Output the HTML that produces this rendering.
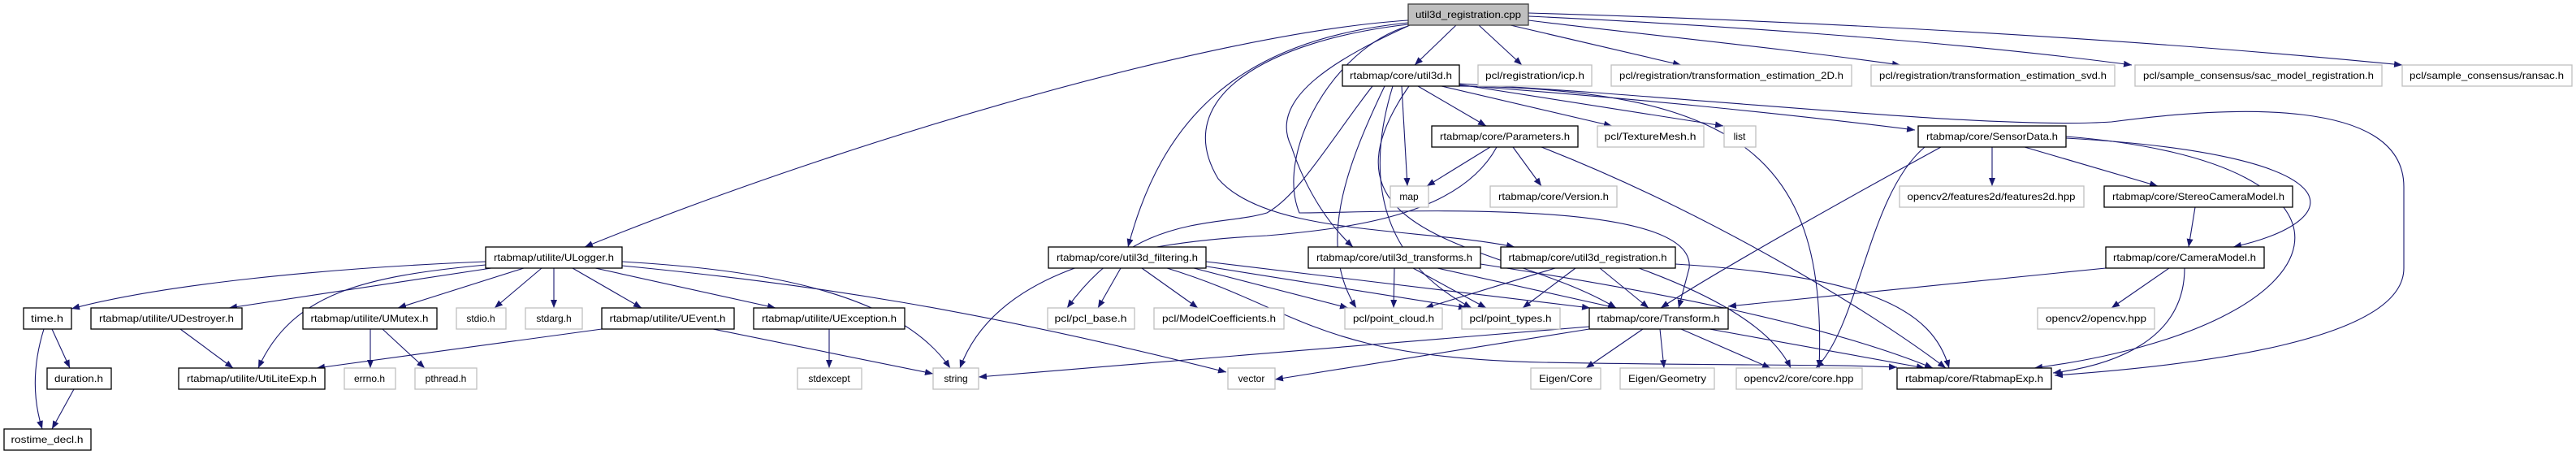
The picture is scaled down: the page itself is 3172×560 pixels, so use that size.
<!DOCTYPE html>
<html><head><meta charset="utf-8"><style>
html,body{margin:0;padding:0;background:#fff;}
svg{display:block}
text{font-family:"Liberation Sans",sans-serif;font-size:12px;fill:#000;}
.b{fill:#fff;stroke:#000;stroke-width:1.3}
.g{fill:#fff;stroke:#bfbfbf;stroke-width:1.3}
.e{fill:none;stroke:#191970;stroke-width:1.1}
</style></head><body>
<svg width="3172" height="560" viewBox="0 0 3172 560" xmlns="http://www.w3.org/2000/svg">
<defs><marker id="a" viewBox="0 0 10 8" refX="10" refY="4" markerWidth="10" markerHeight="8" markerUnits="userSpaceOnUse" orient="auto"><path d="M0,0 L10,4 L0,8 z" fill="#191970"/></marker></defs>
<g class="e" marker-end="url(#a)">
<!-- cpp -->
<path d="M1793,31 L1742,80"/>
<path d="M1821,31 L1874,80"/>
<path d="M1860,31 L2070,80"/>
<path d="M1882,25 C2000,40 2200,60 2340,80"/>
<path d="M1882,20 C2100,30 2400,50 2625,80"/>
<path d="M1882,16 C2200,25 2600,45 2958,80"/>
<path d="M1734,25 C1500,40 1050,170 720,304"/>
<path d="M1734,28 C1520,50 1430,150 1389,304"/>
<path d="M1736,31 C1650,70 1560,120 1590,180 C1610,240 1640,280 1666,304"/>
<path d="M1734,30 C1560,50 1440,120 1500,220 C1560,290 1750,280 1865,304"/>
<path d="M1734,32 C1640,60 1570,190 1600,262 C1700,262 2090,240 2080,330 L2067,379"/>
<!-- util3d.h -->
<path d="M1726,106 L1733,229"/>
<path d="M1746,106 L1830,155"/>
<path d="M1775,106 L1985,155"/>
<path d="M1797,104 L2122,155"/>
<path d="M1797,105 C2000,120 2200,140 2358,160"/>
<path d="M1797,106 C2150,110 2250,200 2240,453"/>
<path d="M1797,103 C2100,120 2450,160 2600,150 C2750,130 2960,120 2960,230 L2960,330 C2960,420 2700,450 2530,462"/>
<path d="M1690,106 C1640,170 1600,240 1560,262 C1500,280 1400,260 1314,379"/>
<path d="M1705,106 C1660,200 1620,300 1670,379"/>
<path d="M1715,106 C1680,220 1700,320 1812,379"/>
<path d="M1735,106 C1600,300 1860,300 1990,379"/>
<!-- Parameters -->
<path d="M1835,181 L1757,229"/>
<path d="M1863,181 L1898,229"/>
<path d="M1898,181 C2100,260 2300,380 2396,453"/>
<path d="M1843,181 C1800,260 1680,280 1560,290 C1350,300 1220,350 1182,453"/>
<!-- SensorData -->
<path d="M2453,181 L2453,229"/>
<path d="M2493,181 L2657,229"/>
<path d="M2544,170 C2900,190 2900,270 2750,304"/>
<path d="M2544,168 C2950,200 2900,400 2505,453"/>
<path d="M2390,181 C2300,230 2120,330 2045,379"/>
<path d="M2370,181 C2300,240 2290,400 2236,453"/>
<!-- Stereo/Camera -->
<path d="M2703,255 L2695,304"/>
<path d="M2671,330 L2600,379"/>
<path d="M2690,330 C2690,420 2600,450 2528,459"/>
<path d="M2593,330 L2128,377"/>
<!-- Transform -->
<path d="M2023,405 L1953,453"/>
<path d="M2044,405 L2049,453"/>
<path d="M2070,405 L2180,453"/>
<path d="M2105,405 L2370,453"/>
<path d="M1957,402 L1205,464"/>
<path d="M1957,405 L1570,467"/>
<!-- util3d_filtering -->
<path d="M1380,330 L1352,379"/>
<path d="M1406,330 L1475,379"/>
<path d="M1470,330 L1660,379"/>
<path d="M1480,327 L1806,379"/>
<path d="M1485,322 L1958,379"/>
<path d="M1437,330 C1600,380 1620,440 1900,446 C2100,450 2250,448 2336,452"/>
<!-- util3d_transforms -->
<path d="M1717,330 L1716,379"/>
<path d="M1740,330 L1830,379"/>
<path d="M1770,330 L1990,379"/>
<path d="M1823,325 C2050,360 2250,400 2380,453"/>
<!-- util3d_registration.h -->
<path d="M1915,330 L1755,379"/>
<path d="M1940,330 L1875,379"/>
<path d="M1970,330 L2030,379"/>
<path d="M2018,330 C2100,360 2180,400 2205,453"/>
<path d="M2063,325 C2300,340 2380,380 2400,453"/>
<!-- ULogger -->
<path d="M598,322 C400,330 200,350 88,380"/>
<path d="M605,330 L282,379"/>
<path d="M598,326 C450,340 360,360 318,453"/>
<path d="M645,330 L490,379"/>
<path d="M667,330 L609,379"/>
<path d="M682,330 L682,379"/>
<path d="M705,330 L790,379"/>
<path d="M733,330 L955,379"/>
<path d="M766,322 C900,330 1100,350 1170,453"/>
<path d="M766,327 C1000,350 1200,380 1510,458"/>
<!-- leaves -->
<path d="M64,405 L86,453"/>
<path d="M54,405 C40,450 40,490 52,528"/>
<path d="M91,479 L64,528"/>
<path d="M222,405 L287,453"/>
<path d="M456,405 L456,453"/>
<path d="M471,405 L523,453"/>
<path d="M741,405 L390,453"/>
<path d="M878,405 L1149,460"/>
<path d="M1021,405 L1021,453"/>
</g>
<g>
<rect x="1734" y="5" width="148" height="26" fill="#bfbfbf" stroke="#404040" stroke-width="1.3"/><text x="1808" y="22" text-anchor="middle" textLength="130" lengthAdjust="spacingAndGlyphs">util3d_registration.cpp</text>
<rect class="b" x="1653" y="80" width="144" height="26"/><text x="1725" y="97" text-anchor="middle" textLength="126" lengthAdjust="spacingAndGlyphs">rtabmap/core/util3d.h</text>
<rect class="g" x="1820" y="80" width="140" height="26"/><text x="1890" y="97" text-anchor="middle" textLength="122" lengthAdjust="spacingAndGlyphs">pcl/registration/icp.h</text>
<rect class="g" x="1984" y="80" width="296" height="26"/><text x="2132" y="97" text-anchor="middle" textLength="276" lengthAdjust="spacingAndGlyphs">pcl/registration/transformation_estimation_2D.h</text>
<rect class="g" x="2304" y="80" width="300" height="26"/><text x="2454" y="97" text-anchor="middle" textLength="280" lengthAdjust="spacingAndGlyphs">pcl/registration/transformation_estimation_svd.h</text>
<rect class="g" x="2629" y="80" width="304" height="26"/><text x="2781" y="97" text-anchor="middle" textLength="284" lengthAdjust="spacingAndGlyphs">pcl/sample_consensus/sac_model_registration.h</text>
<rect class="g" x="2958" y="80" width="209" height="26"/><text x="3062" y="97" text-anchor="middle" textLength="190" lengthAdjust="spacingAndGlyphs">pcl/sample_consensus/ransac.h</text>

<rect class="b" x="1763" y="155" width="180" height="26"/><text x="1853" y="172" text-anchor="middle" textLength="160" lengthAdjust="spacingAndGlyphs">rtabmap/core/Parameters.h</text>
<rect class="g" x="1967" y="155" width="131" height="26"/><text x="2032" y="172" text-anchor="middle" textLength="113" lengthAdjust="spacingAndGlyphs">pcl/TextureMesh.h</text>
<rect class="g" x="2123" y="155" width="39" height="26"/><text x="2142" y="172" text-anchor="middle">list</text>
<rect class="b" x="2362" y="155" width="182" height="26"/><text x="2453" y="172" text-anchor="middle" textLength="162" lengthAdjust="spacingAndGlyphs">rtabmap/core/SensorData.h</text>

<rect class="g" x="1712" y="229" width="47" height="26"/><text x="1735" y="246" text-anchor="middle">map</text>
<rect class="g" x="1835" y="229" width="156" height="26"/><text x="1913" y="246" text-anchor="middle" textLength="136" lengthAdjust="spacingAndGlyphs">rtabmap/core/Version.h</text>
<rect class="g" x="2339" y="229" width="227" height="26"/><text x="2452" y="246" text-anchor="middle" textLength="207" lengthAdjust="spacingAndGlyphs">opencv2/features2d/features2d.hpp</text>
<rect class="b" x="2591" y="229" width="232" height="26"/><text x="2707" y="246" text-anchor="middle" textLength="212" lengthAdjust="spacingAndGlyphs">rtabmap/core/StereoCameraModel.h</text>

<rect class="b" x="598" y="304" width="168" height="26"/><text x="682" y="321" text-anchor="middle" textLength="148" lengthAdjust="spacingAndGlyphs">rtabmap/utilite/ULogger.h</text>
<rect class="b" x="1291" y="304" width="194" height="26"/><text x="1388" y="321" text-anchor="middle" textLength="174" lengthAdjust="spacingAndGlyphs">rtabmap/core/util3d_filtering.h</text>
<rect class="b" x="1611" y="304" width="212" height="26"/><text x="1717" y="321" text-anchor="middle" textLength="192" lengthAdjust="spacingAndGlyphs">rtabmap/core/util3d_transforms.h</text>
<rect class="b" x="1848" y="304" width="215" height="26"/><text x="1955" y="321" text-anchor="middle" textLength="195" lengthAdjust="spacingAndGlyphs">rtabmap/core/util3d_registration.h</text>
<rect class="b" x="2593" y="304" width="195" height="26"/><text x="2690" y="321" text-anchor="middle" textLength="176" lengthAdjust="spacingAndGlyphs">rtabmap/core/CameraModel.h</text>

<rect class="b" x="29" y="379" width="59" height="26"/><text x="58" y="396" text-anchor="middle" textLength="40" lengthAdjust="spacingAndGlyphs">time.h</text>
<rect class="b" x="112" y="379" width="186" height="26"/><text x="205" y="396" text-anchor="middle" textLength="166" lengthAdjust="spacingAndGlyphs">rtabmap/utilite/UDestroyer.h</text>
<rect class="b" x="373" y="379" width="165" height="26"/><text x="455" y="396" text-anchor="middle" textLength="145" lengthAdjust="spacingAndGlyphs">rtabmap/utilite/UMutex.h</text>
<rect class="g" x="562" y="379" width="61" height="26"/><text x="592" y="396" text-anchor="middle">stdio.h</text>
<rect class="g" x="647" y="379" width="70" height="26"/><text x="682" y="396" text-anchor="middle">stdarg.h</text>
<rect class="b" x="741" y="379" width="163" height="26"/><text x="822" y="396" text-anchor="middle" textLength="143" lengthAdjust="spacingAndGlyphs">rtabmap/utilite/UEvent.h</text>
<rect class="b" x="928" y="379" width="186" height="26"/><text x="1021" y="396" text-anchor="middle" textLength="166" lengthAdjust="spacingAndGlyphs">rtabmap/utilite/UException.h</text>
<rect class="g" x="1290" y="379" width="107" height="26"/><text x="1343" y="396" text-anchor="middle" textLength="89" lengthAdjust="spacingAndGlyphs">pcl/pcl_base.h</text>
<rect class="g" x="1421" y="379" width="160" height="26"/><text x="1501" y="396" text-anchor="middle" textLength="140" lengthAdjust="spacingAndGlyphs">pcl/ModelCoefficients.h</text>
<rect class="g" x="1656" y="379" width="120" height="26"/><text x="1716" y="396" text-anchor="middle" textLength="100" lengthAdjust="spacingAndGlyphs">pcl/point_cloud.h</text>
<rect class="g" x="1800" y="379" width="121" height="26"/><text x="1860" y="396" text-anchor="middle" textLength="101" lengthAdjust="spacingAndGlyphs">pcl/point_types.h</text>
<rect class="b" x="1957" y="379" width="171" height="26"/><text x="2042" y="396" text-anchor="middle" textLength="151" lengthAdjust="spacingAndGlyphs">rtabmap/core/Transform.h</text>
<rect class="g" x="2509" y="379" width="144" height="26"/><text x="2581" y="396" text-anchor="middle" textLength="124" lengthAdjust="spacingAndGlyphs">opencv2/opencv.hpp</text>

<rect class="b" x="58" y="453" width="79" height="26"/><text x="97" y="470" text-anchor="middle" textLength="60" lengthAdjust="spacingAndGlyphs">duration.h</text>
<rect class="b" x="220" y="453" width="180" height="26"/><text x="310" y="470" text-anchor="middle" textLength="160" lengthAdjust="spacingAndGlyphs">rtabmap/utilite/UtiLiteExp.h</text>
<rect class="g" x="424" y="453" width="63" height="26"/><text x="455" y="470" text-anchor="middle">errno.h</text>
<rect class="g" x="511" y="453" width="76" height="26"/><text x="549" y="470" text-anchor="middle">pthread.h</text>
<rect class="g" x="982" y="453" width="79" height="26"/><text x="1021" y="470" text-anchor="middle">stdexcept</text>
<rect class="g" x="1149" y="453" width="56" height="26"/><text x="1177" y="470" text-anchor="middle">string</text>
<rect class="g" x="1512" y="453" width="58" height="26"/><text x="1541" y="470" text-anchor="middle">vector</text>
<rect class="g" x="1885" y="453" width="86" height="26"/><text x="1928" y="470" text-anchor="middle" textLength="66" lengthAdjust="spacingAndGlyphs">Eigen/Core</text>
<rect class="g" x="1995" y="453" width="116" height="26"/><text x="2053" y="470" text-anchor="middle" textLength="96" lengthAdjust="spacingAndGlyphs">Eigen/Geometry</text>
<rect class="g" x="2138" y="453" width="155" height="26"/><text x="2215" y="470" text-anchor="middle" textLength="135" lengthAdjust="spacingAndGlyphs">opencv2/core/core.hpp</text>
<rect class="b" x="2336" y="453" width="190" height="26"/><text x="2431" y="470" text-anchor="middle" textLength="170" lengthAdjust="spacingAndGlyphs">rtabmap/core/RtabmapExp.h</text>

<rect class="b" x="5" y="528" width="107" height="26"/><text x="58" y="545" text-anchor="middle" textLength="89" lengthAdjust="spacingAndGlyphs">rostime_decl.h</text>
</g>
</svg>
</body></html>
